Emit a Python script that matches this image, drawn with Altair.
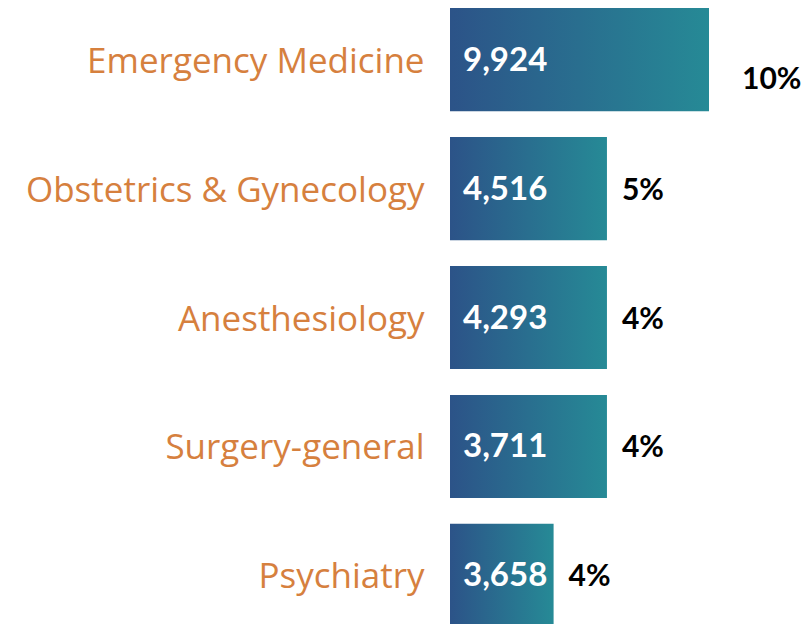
import altair as alt
import pandas as pd

specialties = ["Emergency Medicine", "Obstetrics & Gynecology", "Anesthesiology",
               "Surgery-general", "Psychiatry"]
counts = [9924, 4516, 4293, 3711, 3658]
shares = ["10%", "5%", "4%", "4%", "4%"]
bar_units = [5, 3.03, 3.03, 3.03, 2.0]  # relative bar lengths as drawn

df = pd.DataFrame({
    "specialty": specialties,
    "count": counts,
    "count_label": [f"{c:,}" for c in counts],
    "share": shares,
    "units": bar_units,
    "rank": list(range(len(specialties))),
})

grad = alt.Gradient(
    gradient="linear",
    stops=[alt.GradientStop(color="#2c5388", offset=0),
           alt.GradientStop(color="#268a96", offset=1)],
    x1=0, x2=1, y1=0, y2=0,
)

y_enc = alt.Y("specialty:N", sort=specialties,
              scale=alt.Scale(paddingInner=0.2, paddingOuter=0),
              axis=alt.Axis(title=None, ticks=False, domain=False, grid=False,
                            labelFont="Open Sans", labelFontSize=35,
                            labelColor="#d6803e", labelPadding=26,
                            labelOffset=2, labelLimit=500))
x_scale = alt.Scale(domain=[0, 5])

base = alt.Chart(df)

bars = base.mark_bar(color=grad).encode(
    x=alt.X("units:Q", scale=x_scale, axis=None),
    y=y_enc,
)

values = base.mark_text(align="left", baseline="middle", dx=13, dy=1,
                        color="white", font="Lato", fontWeight="bold",
                        fontSize=33).encode(
    x=alt.datum(0),
    y=alt.Y("specialty:N", sort=specialties),
    text="count_label:N",
)

pct_first = base.transform_filter("datum.rank == 0").mark_text(
    align="left", baseline="middle", dx=33, dy=20, color="black",
    font="Lato", fontWeight="bold", fontSize=30).encode(
    x=alt.X("units:Q", scale=x_scale),
    y=alt.Y("specialty:N", sort=specialties),
    text="share:N",
)

pct_rest = base.transform_filter("datum.rank > 0").mark_text(
    align="left", baseline="middle", dx=15, dy=2, color="black",
    font="Lato", fontWeight="bold", fontSize=30).encode(
    x=alt.X("units:Q", scale=x_scale),
    y=alt.Y("specialty:N", sort=specialties),
    text="share:N",
)

chart = alt.layer(bars, values, pct_first, pct_rest).properties(
    width=259, height=619,
    autosize=alt.AutoSizeParams(type="none"),
    padding={"left": 442, "top": 0, "right": 92, "bottom": 0},
).configure_view(stroke=None)

chart.save("out.html", embed_options={"renderer": "svg", "actions": False})
